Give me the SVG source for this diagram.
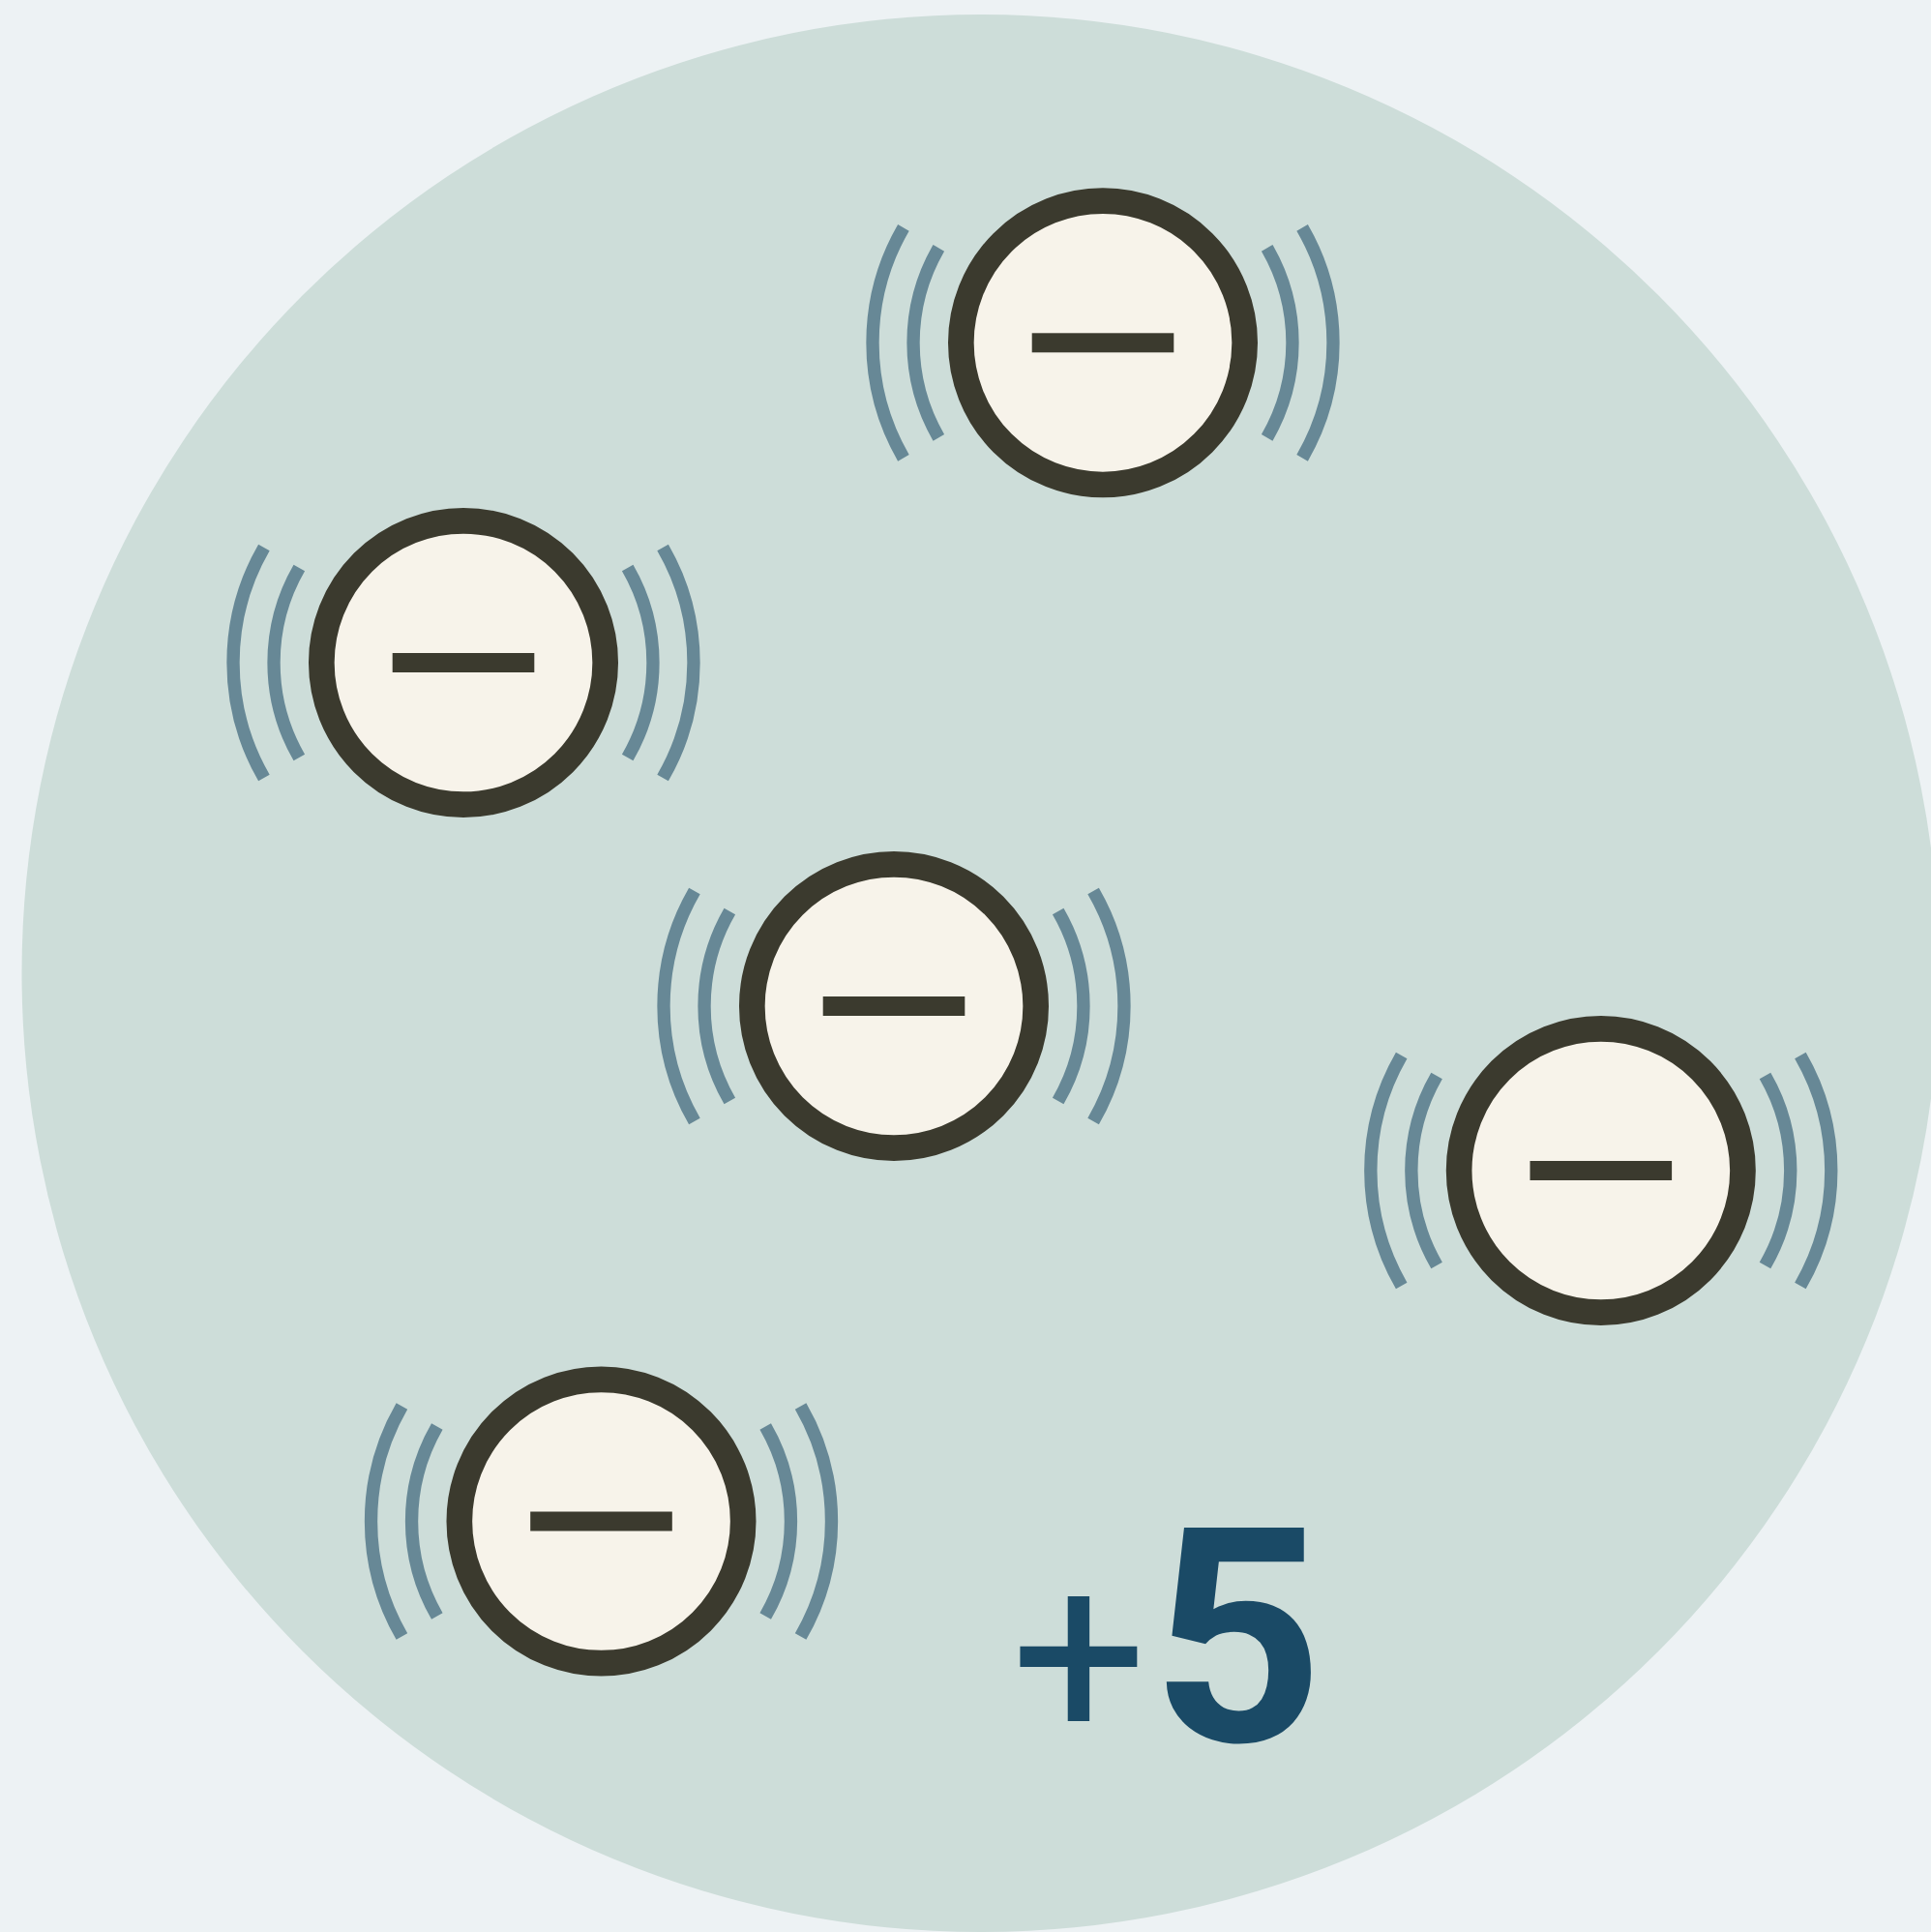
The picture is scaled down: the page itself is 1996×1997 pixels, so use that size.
<svg xmlns="http://www.w3.org/2000/svg" width="1996" height="1997" viewBox="0 0 1996 1997">
<style>
.ring{fill:#f7f3ea;stroke:#3b3a2e;stroke-width:26.67}
.bar{fill:#3b3a2e}
.wave{fill:none;stroke:#678896;stroke-width:13.33}
.val{font-family:"Roboto","Liberation Sans",sans-serif;fill:#1a4a66}
</style>
<defs>
<g id="electron">
<circle class="ring" r="146.67"/>
<rect class="bar" x="-73.3" y="-10" width="146.6" height="20"/>
<path class="wave" d="M-169.7 -98A196 196 0 0 0 -169.7 98M-206.1 -119A238 238 0 0 0 -206.1 119M169.7 -98A196 196 0 0 1 169.7 98M206.1 -119A238 238 0 0 1 206.1 119"/>
</g>
</defs>
<rect width="1996" height="1997" fill="#edf2f4"/>
<circle cx="1013.5" cy="1006" r="991" fill="#cdddd9"/>
<g id="node-1" transform="translate(1140 354.3)"><use href="#electron"/></g>
<g id="node-2" transform="translate(479 685)"><use href="#electron"/></g>
<g id="node-3" transform="translate(924 1040)"><use href="#electron"/></g>
<g id="node-4" transform="translate(1654.8 1210)"><use href="#electron"/></g>
<g id="node-5" transform="translate(621.5 1572.5)"><use href="#electron"/></g>
<g id="connectors"/>
<g id="charge"><text class="val"><tspan x="1045" y="1797" font-size="248" font-weight="400">+</tspan><tspan x="1190" y="1799.5" font-size="310" font-weight="700">5</tspan></text></g>
</svg>
